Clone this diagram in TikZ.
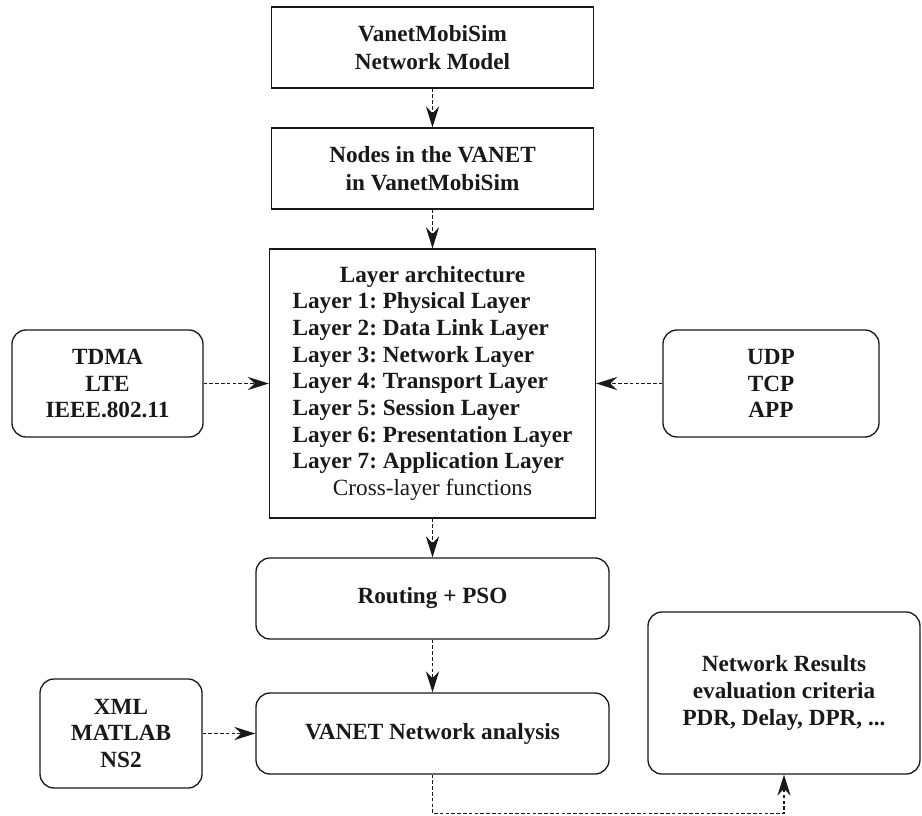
\documentclass[tikz,border=0pt]{standalone}
\usepackage{fontspec}
\setmainfont{Liberation Serif}
\usetikzlibrary{arrows.meta}

\definecolor{myink}{RGB}{25,25,25}
\newcommand{\ctr}[1]{\multicolumn{1}{@{}c@{}}{#1}}
\frenchspacing

\begin{document}
\begin{tikzpicture}[
    box/.style={draw=myink,line width=0.75pt,text=myink,align=center,
        font=\fontsize{13.2}{15.2}\selectfont\bfseries,inner sep=0pt},
    sqbox/.style={box,minimum width=6.44cm,minimum height=1.62cm},
    rbox/.style={box,rounded corners=0.28cm},
    flow/.style={draw=myink,line width=0.65pt,dash pattern=on 2pt off 1.3pt,
        -{Stealth[length=12pt,width=7.5pt,inset=4pt]}}
]

\useasboundingbox (0,0) rectangle (18.44,-16.3);

% main column
\node[sqbox] (model) at (8.65,-0.95) {VanetMobiSim\\[1pt]Network Model};
\node[sqbox] (nodes) at (8.65,-3.37) {Nodes in the VANET\\[1pt] in VanetMobiSim};
\node[sqbox,minimum width=6.52cm,minimum height=5.38cm] (layers) at (8.65,-7.67) {%
    \begin{tabular}{@{}l@{}}
    \ctr{Layer architecture}\\
    Layer 1: Physical Layer\\
    Layer 2: Data Link Layer\\
    Layer 3: Network Layer\\
    Layer 4: Transport Layer\\
    Layer 5: Session Layer\\
    Layer 6: Presentation Layer\\
    Layer 7: Application Layer\\
    \ctr{\mdseries Cross-layer functions}
    \end{tabular}};
\node[rbox,minimum width=7.06cm,minimum height=1.62cm] (routing) at (8.65,-11.97) {Routing + PSO};
\node[rbox,minimum width=7.06cm,minimum height=1.62cm] (analysis) at (8.65,-14.67) {VANET Network analysis};

% side boxes
\node[rbox,minimum width=3.82cm,minimum height=2.14cm] (tdma) at (2.15,-7.67) {TDMA\\LTE\\IEEE.802.11};
\node[rbox,minimum width=4.32cm,minimum height=2.14cm] (udp) at (15.42,-7.67) {UDP\\TCP\\APP};
\node[rbox,minimum width=3.24cm,minimum height=2.18cm] (tools) at (2.42,-14.67) {XML\\MATLAB\\NS2};
\node[rbox,minimum width=5.44cm,minimum height=3.24cm] (results) at (15.68,-13.86) {Network Results\\evaluation criteria\\PDR, Delay, DPR, ...};

% arrows
\foreach \a/\b in {model/nodes, nodes/layers, layers/routing, routing/analysis} {
    \draw[flow] (\a) -- (\b);
}
\draw[flow] (tdma) -- (layers);
\draw[flow] (udp) -- (layers);
\draw[flow] (tools) -- (analysis);
\draw[flow] (analysis.south) -- ++(0,-0.78) -| (results.south);

\end{tikzpicture}
\end{document}
